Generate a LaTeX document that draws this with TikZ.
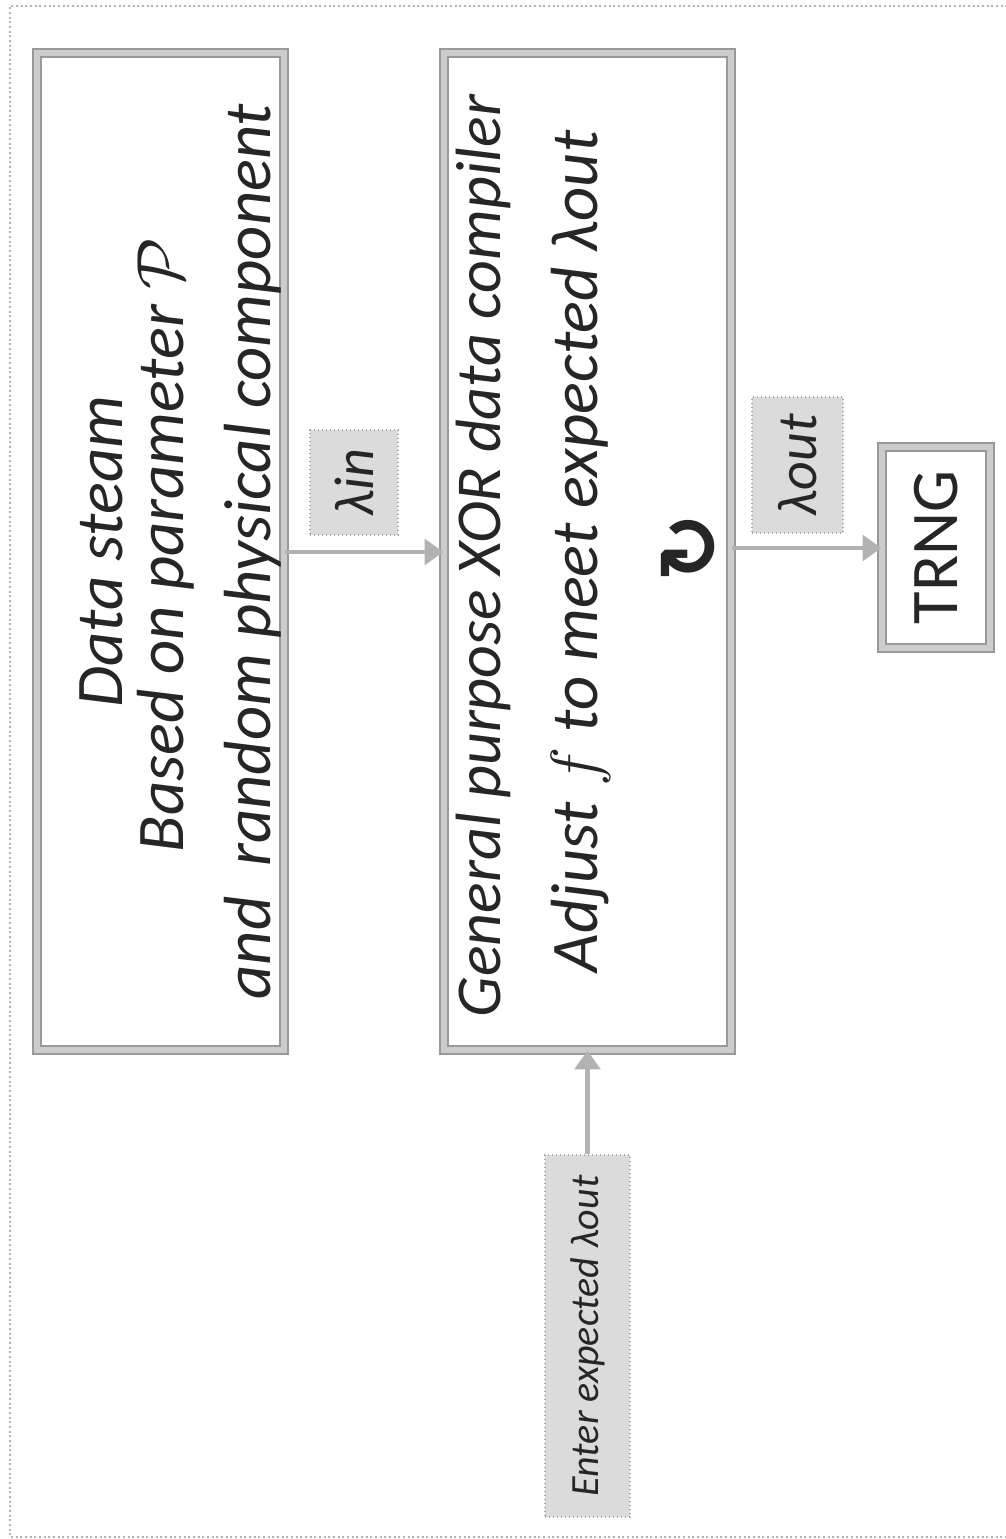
\documentclass[tikz,border=0pt]{standalone}
\usepackage{fix-cm}
\usepackage{fontspec}
\setmainfont{Carlito}
\newfontfamily\symfont{DejaVu Sans}
\usetikzlibrary{arrows.meta}

\begin{document}
\begin{tikzpicture}[x=0.75pt,y=-0.75pt,
  panel/.style={draw=gray!80, double=gray!40, double distance=5pt, line width=1pt, inner sep=0pt},
  tag/.style={fill=gray!28, draw=gray!70, dotted, line width=1pt, inner sep=0pt},
  flow/.style={draw=gray!60, line width=3.5pt, -{Triangle[length=14pt,width=19pt]}},
  txt/.style={rotate=90, anchor=base, inner sep=0pt, text=black!85,
              font=\itshape\fontsize{50}{60}\selectfont}
]
\useasboundingbox (0,0) rectangle (1006,1539);

% dotted page frame
\draw[gray!60, dotted, line width=1.5pt] (1012,6) -- (10,6) -- (10,1537) -- (1012,1537);

% boxes
\node[panel, minimum width=185.25pt, minimum height=747.75pt] (src) at (160.5,551.5) {};
\node[panel, minimum width=215.25pt, minimum height=747.75pt] (cmp) at (587.5,551.5) {};
\node[panel, minimum width=81pt, minimum height=150.75pt] (trng) at (936,547.5) {};

% source box text
\node[txt] (s1) at (122,551.5) {Data steam};
\node[txt] (s2) at (183,545) {Based on parameter $\mathcal{P}$};
\node[txt] (s3) at (270,551.5) {and\ \ random physical component};

% compiler box text
\node[txt, font=\itshape\fontsize{48}{58}\selectfont] (c1) at (500,556) {General purpose XOR data compiler};
\node[txt] (c2) at (597,551.5) {Adjust $f$ to meet expected λout};
\node[rotate=90, inner sep=0pt, text=black!85,
      font=\symfont\bfseries\fontsize{62}{62}\selectfont] (loop) at (690,548) {↻};

% output box text
\node[rotate=90, inner sep=0pt, text=black!85, font=\fontsize{50}{60}\selectfont]
  (t1) at (936,547.5) {TRNG};

% rate tags
\node[tag, minimum width=66pt, minimum height=78.75pt] (lin) at (354,482.5) {};
\node[txt, font=\itshape\fontsize{42}{42}\selectfont] at (lin.center) [anchor=center] {λin};
\node[tag, minimum width=68.25pt, minimum height=102pt] (lout) at (797.5,465) {};
\node[txt, font=\itshape\fontsize{42}{42}\selectfont] at (lout.center) [anchor=center] {λout};
\node[tag, minimum width=63.75pt, minimum height=271.5pt] (enter) at (587.5,1336) {};
\node[txt, font=\itshape\fontsize{30}{30}\selectfont] at (enter.center) [anchor=center] {Enter expected λout};

% connectors
\coordinate (inrow) at (0,552);
\coordinate (outrow) at (0,548);
\draw[flow] (src.east |- inrow) -- (cmp.west |- inrow);
\draw[flow] (cmp.east |- outrow) -- (trng.west |- outrow);
\draw[flow] (enter) -- (cmp);
\end{tikzpicture}
\end{document}
